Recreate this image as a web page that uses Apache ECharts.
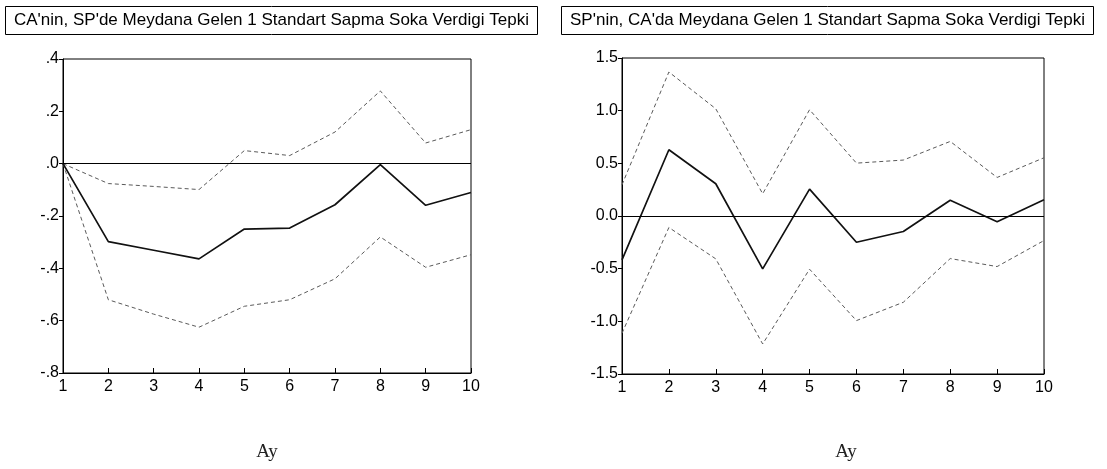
<!DOCTYPE html>
<html>
<head>
<meta charset="utf-8">
<script src="https://cdn.jsdelivr.net/npm/echarts@6/dist/echarts.min.js"></script>
<style>
html,body{margin:0;padding:0;background:#fff;}
#chart{width:1107px;height:469px;}
</style>
</head>
<body>
<div id="chart"></div>
<script>
var periods = ['1','2','3','4','5','6','7','8','9','10'];

var titleLeft = "CA'nin, SP'de Meydana Gelen 1 Standart Sapma Soka Verdigi Tepki";
var titleRight = "SP'nin, CA'da Meydana Gelen 1 Standart Sapma Soka Verdigi Tepki";
var xAxisName = 'Ay';

// Left panel: response of CA to SP shock
var leftResp  = [0, -0.298, -0.331, -0.364, -0.250, -0.246, -0.157, -0.004, -0.159, -0.110];
var leftUpper = [0, -0.076, -0.087, -0.099,  0.050,  0.031,  0.121,  0.278,  0.079,  0.130];
var leftLower = [0, -0.520, -0.575, -0.625, -0.545, -0.520, -0.440, -0.280, -0.396, -0.348];

// Right panel: response of SP to CA shock
var rightResp  = [-0.417, 0.629, 0.306, -0.502, 0.255, -0.249, -0.147, 0.150, -0.055, 0.154];
var rightUpper = [0.296, 1.367, 1.018, 0.211, 1.009, 0.502, 0.531, 0.708, 0.366, 0.553];
var rightLower = [-1.113, -0.109, -0.407, -1.215, -0.505, -0.993, -0.819, -0.404, -0.480, -0.233];

var FONT = "'Liberation Sans', Arial, sans-serif";

function xAx(gi) {
  return {
    type: 'category', gridIndex: gi, data: periods, boundaryGap: false,
    axisLine: {show: true, onZero: false, lineStyle: {color: '#000', width: 1}},
    axisTick: {show: true, inside: true, length: 5, lineStyle: {color: '#000'}},
    axisLabel: {color: '#000', fontFamily: FONT, fontSize: 16, margin: 6},
    splitLine: {show: false}
  };
}
function yAx(gi, min, max, interval, fmt) {
  return {
    type: 'value', gridIndex: gi, min: min, max: max, interval: interval,
    axisLine: {show: true, lineStyle: {color: '#000', width: 1}},
    axisTick: {show: true, inside: false, length: 4, lineStyle: {color: '#000'}},
    axisLabel: {color: '#000', fontFamily: FONT, fontSize: 16, margin: 4, formatter: fmt},
    splitLine: {show: false}
  };
}
function fmtLeft(v) { return v.toFixed(1).replace('0.', '.'); }
function fmtRight(v) { return v.toFixed(1); }

function solid(gi, data, withZero) {
  var s = {
    type: 'line', xAxisIndex: gi, yAxisIndex: gi, data: data, symbol: 'none',
    lineStyle: {color: '#111', width: 1.7, type: 'solid'}, z: 3
  };
  if (withZero) {
    s.markLine = {
      silent: true, symbol: ['none', 'none'], label: {show: false},
      lineStyle: {color: '#000', width: 1, type: 'solid'},
      data: [{yAxis: 0}]
    };
  }
  return s;
}
function dashed(gi, data) {
  return {
    type: 'line', xAxisIndex: gi, yAxisIndex: gi, data: data, symbol: 'none',
    lineStyle: {color: '#5a5a5a', width: 1, type: [4, 3]}, z: 2
  };
}

var titleStyle = {fontFamily: FONT, fontSize: 17, fontWeight: 'normal', color: '#000'};

var option = {
  animation: false,
  backgroundColor: '#fff',
  title: [
    {text: titleLeft, left: 5, top: 6, padding: [6, 9], borderColor: '#000', borderWidth: 1, textStyle: titleStyle},
    {text: titleRight, left: 561, top: 6, padding: [6, 9], borderColor: '#000', borderWidth: 1, textStyle: titleStyle}
  ],
  graphic: [
    {type: 'text', x: 267, y: 452, style: {text: xAxisName, font: "19px 'Liberation Serif', 'Times New Roman', serif", fill: '#222', textAlign: 'center', textVerticalAlign: 'middle'}},
    {type: 'text', x: 846, y: 452, style: {text: xAxisName, font: "19px 'Liberation Serif', 'Times New Roman', serif", fill: '#222', textAlign: 'center', textVerticalAlign: 'middle'}}
  ],
  grid: [
    {left: 63, right: 636, top: 59, bottom: 96, show: true, borderColor: '#000', borderWidth: 1},
    {left: 622, right: 63, top: 58, bottom: 95, show: true, borderColor: '#000', borderWidth: 1}
  ],
  xAxis: [xAx(0), xAx(1)],
  yAxis: [yAx(0, -0.8, 0.4, 0.2, fmtLeft), yAx(1, -1.5, 1.5, 0.5, fmtRight)],
  series: [
    dashed(0, leftUpper), dashed(0, leftLower), solid(0, leftResp, true),
    dashed(1, rightUpper), dashed(1, rightLower), solid(1, rightResp, true)
  ]
};

var chart = echarts.init(document.getElementById('chart'), null, {renderer: 'canvas'});
chart.setOption(option);
</script>
</body>
</html>
